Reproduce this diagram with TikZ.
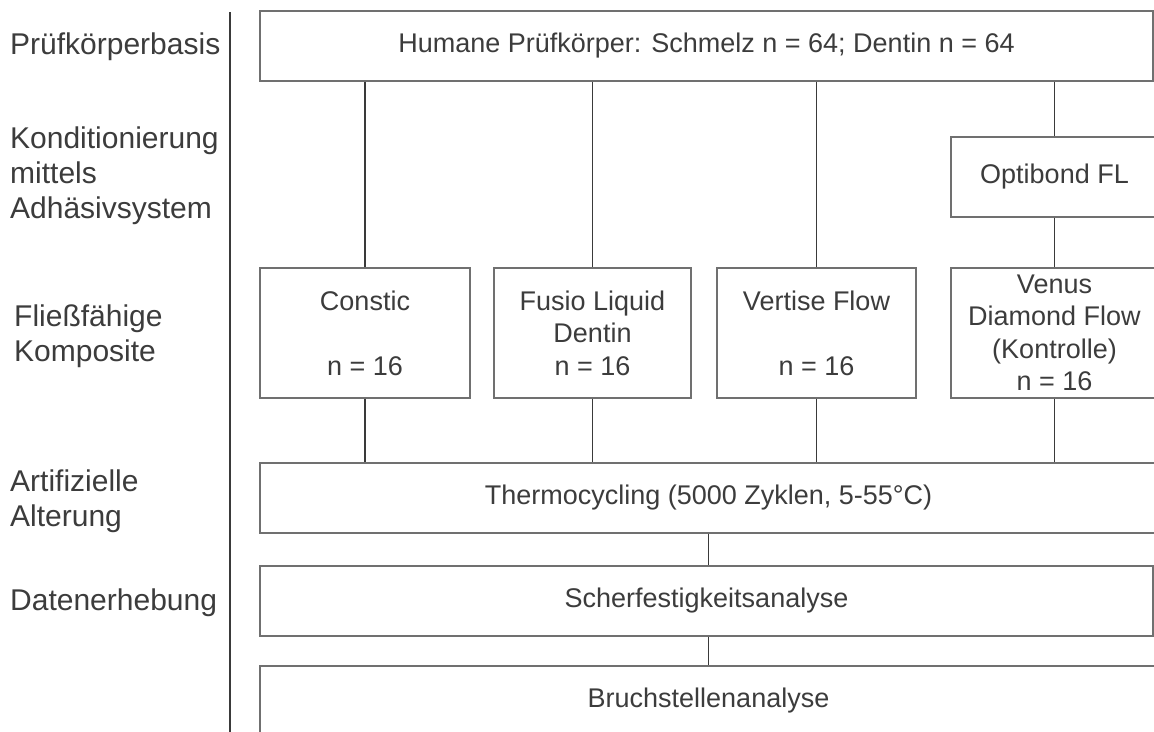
\documentclass[tikz,border=0pt]{standalone}
\usepackage{fontspec}
\setmainfont{Liberation Sans}
\definecolor{txt}{HTML}{3C3C3C}
\definecolor{boxgray}{HTML}{707070}
\definecolor{linegray}{HTML}{3A3A3A}
\newcommand\labfont{\fontsize{30}{35}\selectfont}
\newcommand\boxfont{\fontsize{27}{32.5}\selectfont}
\tikzset{
  stagebox/.style={draw=boxgray, line width=1.3pt, text=txt, font=\boxfont,
    inner sep=0pt, align=center, rectangle},
  rowlabel/.style={text=txt, font=\labfont, anchor=west, align=left, inner sep=0pt},
  conn/.style={draw=linegray, line width=1.4pt},
  sepline/.style={draw=linegray, line width=2pt}
}
\begin{document}
\begin{tikzpicture}[x=1pt,y=-1pt]
\useasboundingbox (0,0) rectangle (1154,731);
\clip (0,0) rectangle (1154,731);
\fill[white] (0,0) rectangle (1154,731);

% row labels
\node[rowlabel] (l1) at (10,47) {Prüfkörperbasis};
\node[rowlabel] (l2) at (10,176) {Konditionierung\\mittels\\Adhäsivsystem};
\node[rowlabel] (l3) at (14,336) {Fließfähige\\Komposite};
\node[rowlabel] (l4) at (10,501) {Artifizielle\\Alterung};
\node[rowlabel] (l5) at (10,603) {Datenerhebung};

% separator
\coordinate (septop) at (230,12);
\coordinate (sepbot) at (230,740);
\draw[sepline] (septop) -- (sepbot);

% boxes
\node[stagebox, minimum width=893pt, minimum height=70pt] (top) at (706.5,46)
  {Humane Prüfkörper: Schmelz n = 64; Dentin n = 64};
\node[stagebox, minimum width=207pt, minimum height=80pt] (opti) at (1054.5,177)
  {Optibond FL};
\node[stagebox, minimum width=210pt, minimum height=130pt] (constic) at (365,333)
  {Constic\\~\\n = 16};
\node[stagebox, minimum width=197pt, minimum height=130pt] (fusio) at (592.5,333)
  {Fusio Liquid\\Dentin\\n = 16};
\node[stagebox, minimum width=199pt, minimum height=130pt] (vertise) at (816.5,333)
  {Vertise Flow\\~\\n = 16};
\node[stagebox, minimum width=207pt, minimum height=130pt] (venus) at (1054.5,333)
  {Venus\\Diamond Flow\\(Kontrolle)\\n = 16};
\node[stagebox, minimum width=897pt, minimum height=70pt] (thermo) at (708.5,498)
  {Thermocycling (5000 Zyklen, 5-55°C)};
\node[stagebox, minimum width=893pt, minimum height=70pt] (scherf) at (706.5,601)
  {Scherfestigkeitsanalyse};
\node[stagebox, minimum width=897pt, minimum height=70pt] (bruch) at (708.5,701)
  {Bruchstellenanalyse};

% connectors
\draw[conn] (top.south -| constic.north) -- (constic.north);
\draw[conn] (top.south -| fusio.north) -- (fusio.north);
\draw[conn] (top.south -| vertise.north) -- (vertise.north);
\draw[conn] (top.south -| opti.north) -- (opti.north);
\draw[conn] (opti.south) -- (venus.north);
\draw[conn] (constic.south) -- (constic.south |- thermo.north);
\draw[conn] (fusio.south) -- (fusio.south |- thermo.north);
\draw[conn] (vertise.south) -- (vertise.south |- thermo.north);
\draw[conn] (venus.south) -- (venus.south |- thermo.north);
\draw[conn] (thermo.south) -- (thermo.south |- scherf.north);
\draw[conn] (scherf.south -| thermo.south) -- (thermo.south |- bruch.north);
\end{tikzpicture}
\end{document}
